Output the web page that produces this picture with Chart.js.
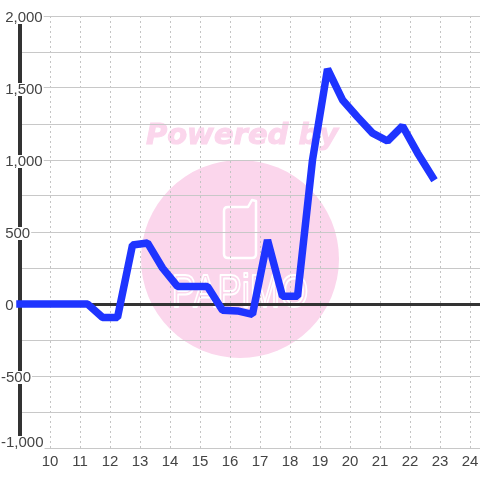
<!DOCTYPE html>
<html>
<head>
<meta charset="utf-8">
<style>
  html, body { margin: 0; padding: 0; background: #fff; }
  #wrap { width: 480px; height: 480px; }
</style>
<script src="https://cdn.jsdelivr.net/npm/chart.js@4/dist/chart.umd.min.js"></script>
</head>
<body>
<div id="wrap"><canvas id="c" width="480" height="480"></canvas></div>
<script>
const hours = [9, 11.25, 11.75, 12.25, 12.75, 13.25, 13.75, 14.25, 15.25, 15.75, 16.25, 16.75, 17.25, 17.75, 18.25, 18.75, 19.25, 19.75, 20.25, 20.75, 21.25, 21.75, 22.25, 22.75];
const flow = [0, 0, -93, -93, 410, 424, 250, 122, 122, -44, -48, -72, 444, 53, 53, 1000, 1632, 1417, 1299, 1187, 1132, 1236, 1049, 882];

// pink logo behind the grid
const watermark = {
  id: "watermark",
  beforeDraw(chart) {
    const g = chart.ctx;
    g.save();
    g.fillStyle = "#fbd6ec";
    g.strokeStyle = "#fbd6ec";
    g.beginPath();
    g.arc(240, 259, 99, 0, Math.PI * 2);
    g.fill();
    g.font = "italic bold 29px 'DejaVu Sans'";
    g.textAlign = "center";
    g.textBaseline = "alphabetic";
    g.lineWidth = 1;
    g.strokeText("Powered by", 242, 144);
    g.fillText("Powered by", 242, 144);
    g.strokeStyle = "#fff";
    g.lineWidth = 2.5;
    g.lineJoin = "round";
    // phone icon
    g.beginPath();
    g.moveTo(248, 207);
    g.lineTo(228, 207);
    g.quadraticCurveTo(224, 207, 224, 211);
    g.lineTo(224, 254);
    g.quadraticCurveTo(224, 258, 228, 258);
    g.lineTo(252, 258);
    g.quadraticCurveTo(256, 258, 256, 254);
    g.lineTo(256, 201);
    g.lineTo(252, 200);
    g.closePath();
    g.stroke();
    g.translate(240, 307);
    g.scale(0.79, 1);
    g.font = "46px 'Liberation Sans'";
    g.lineWidth = 2;
    g.strokeText("PAPiMO", 0, 0);
    g.restore();
  }
};

new Chart(document.getElementById("c"), {
  type: "line",
  data: {
    datasets: [{
      data: hours.map((h, i) => ({ x: h, y: flow[i] })),
      borderColor: "#1e34ff",
      borderWidth: 7.5,
      tension: 0,
      pointRadius: 0,
      clip: false,
      borderJoinStyle: "bevel",
      borderCapStyle: "square"
    }]
  },
  plugins: [watermark],
  options: {
    responsive: false,
    animation: false,
    layout: { padding: { top: 16, bottom: 0, right: 0, left: 0 } },
    plugins: { legend: { display: false }, tooltip: { enabled: false } },
    scales: {
      x: {
        type: "linear",
        min: 9,
        max: 24.333,
        afterFit(s) { s.height = 32; s.paddingRight = 0; s.paddingLeft = 0; },
        grid: { color: "#c4c4c4", lineWidth: 1, tickLength: 0 },
        border: { display: false, dash: [2, 3] },
        ticks: {
          stepSize: 1,
          includeBounds: false,
          autoSkip: false,
          maxRotation: 0,
          padding: 5,
          color: "#444",
          font: { family: "'Liberation Sans'", size: 15 },
          callback: v => (v >= 10 && v <= 24 ? String(v) : "")
        }
      },
      y: {
        min: -1000,
        max: 2000,
        afterFit(s) { s.width = 20; },
        afterUpdate(s) {
          if (s._nudged) return;
          s._nudged = true;
          // nudge labels; the bottom one is pushed up inside the plot
          const orig = s._computeLabelItems.bind(s);
          s._computeLabelItems = a => orig(a).map(it => {
            const bottom = it.label === "-1,000";
            it.textOffset += bottom ? -5 : 2;
            if (it.options.backdrop) {
              it.options.backdrop.top = bottom ? -12 : -5;
              it.options.backdrop.height = bottom ? 14 : 13;
            }
            return it;
          });
        },
        grid: {
          color: c => (c.tick.value === 0 ? "#333" : "#c8c8c8"),
          lineWidth: c => (c.tick.value === 0 ? 3 : 1),
          tickLength: 0
        },
        border: { color: "#333", width: 4 },
        ticks: {
          stepSize: 250,
          autoSkip: false,
          mirror: true,
          padding: -19,
          color: "#444",
          font: { family: "'Liberation Sans'", size: 15 },
          showLabelBackdrop: true,
          backdropColor: "#fff",
          backdropPadding: { top: 0, bottom: 0, left: 1, right: 1 },
          callback: v => {
            if (v % 500 !== 0) return "";
            const s = Math.abs(v).toLocaleString("en-US");
            return v < 0 ? "-" + s : " " + s;
          }
        }
      }
    }
  }
});
</script>
</body>
</html>
